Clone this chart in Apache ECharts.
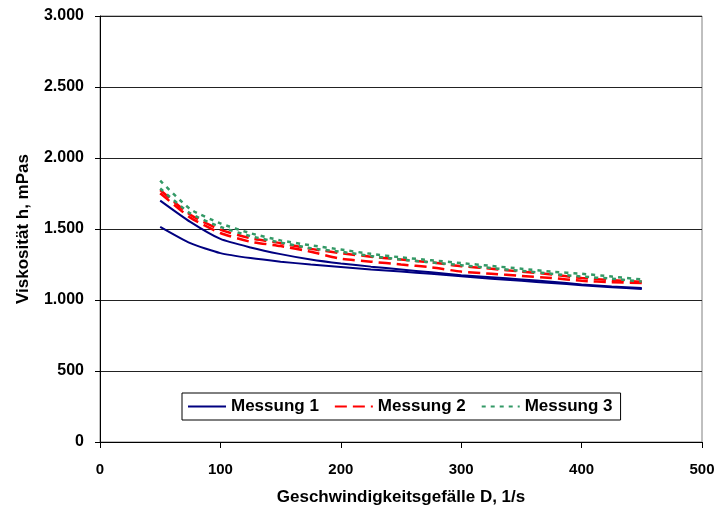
<!DOCTYPE html>
<html>
<head>
<meta charset="utf-8">
<script src="https://cdn.jsdelivr.net/npm/echarts@6/dist/echarts.min.js"></script>
<style>
  html, body { margin: 0; padding: 0; background: #fff; }
  #chart { width: 720px; height: 514px; }
</style>
</head>
<body>
<div id="chart"></div>
<script>
// Schergefälle D (1/s)
const shearRates = [50, 75, 100, 125, 150, 175, 200, 225, 250, 275, 300, 325, 350, 375, 400, 425, 450]

// Messung 1 (Auf- und Abwärtskurve)
const m1Up = [1515, 1400, 1330, 1295, 1270, 1250, 1233, 1215, 1200, 1185, 1167, 1150, 1135, 1120, 1104, 1090, 1078]
const m1Down = [1700, 1550, 1430, 1370, 1323, 1285, 1257, 1235, 1215, 1195, 1175, 1160, 1145, 1128, 1110, 1095, 1085]
// Messung 2
const m2Up = [1752, 1580, 1472, 1410, 1380, 1340, 1290, 1270, 1250, 1230, 1200, 1185, 1170, 1155, 1135, 1125, 1120]
const m2Down = [1775, 1600, 1495, 1435, 1400, 1360, 1330, 1305, 1285, 1265, 1238, 1220, 1200, 1180, 1155, 1140, 1128]
// Messung 3
const m3Up = [1785, 1610, 1515, 1450, 1405, 1365, 1340, 1310, 1285, 1265, 1245, 1225, 1205, 1185, 1165, 1150, 1130]
const m3Down = [1840, 1640, 1540, 1470, 1420, 1385, 1355, 1325, 1300, 1280, 1260, 1240, 1220, 1200, 1185, 1165, 1145]

const font = 'Liberation Sans, Arial, sans-serif'

const pairs = (ys) => shearRates.map((x, i) => [x, ys[i]])

const mkSeries = (name, ys, color, type) => ({
  name: name,
  type: 'line',
  data: pairs(ys),
  symbol: 'none',
  smooth: 0.2,
  lineStyle: { color: color, width: type === 'solid' ? 2 : 2.5, type: type },
  itemStyle: { color: color },
})

const chart = echarts.init(document.getElementById('chart'), null, { renderer: 'canvas' })
chart.setOption({
  backgroundColor: '#fff',
  animation: false,
  textStyle: { fontFamily: font },
  grid: {
    left: 100, right: 18, top: 16, bottom: 72,
    show: true, borderColor: '#808080', borderWidth: 1,
  },
  legend: {
    left: 182, top: 393,
    orient: 'horizontal',
    backgroundColor: '#fff',
    borderColor: '#000', borderWidth: 1,
    padding: [5, 8, 5, 5],
    itemWidth: 38, itemHeight: 14, itemGap: 15,
    itemStyle: { opacity: 0 },
    textStyle: { fontFamily: font, fontWeight: 'bold', fontSize: 17, color: '#000' },
    data: ['Messung 1', 'Messung 2', 'Messung 3'],
  },
  xAxis: {
    type: 'value',
    min: 0, max: 500, interval: 100,
    name: 'Geschwindigkeitsgefälle D, 1/s',
    nameLocation: 'middle', nameGap: 47,
    nameTextStyle: { fontFamily: font, fontWeight: 'bold', fontSize: 17, color: '#000' },
    axisLine: { lineStyle: { color: '#000', width: 1 } },
    axisTick: { inside: false, length: 6, lineStyle: { color: '#000' } },
    axisLabel: { fontFamily: font, fontWeight: 'bold', fontSize: 15, color: '#000', margin: 20 },
    splitLine: { show: false },
  },
  yAxis: {
    type: 'value',
    min: 0, max: 3000, interval: 500,
    name: 'Viskosität h, mPas',
    nameLocation: 'middle', nameGap: 68,
    nameTextStyle: { fontFamily: font, fontWeight: 'bold', fontSize: 17, color: '#000' },
    axisLine: { show: true, lineStyle: { color: '#000', width: 1 } },
    axisTick: { show: true, length: 5, lineStyle: { color: '#000' } },
    axisLabel: {
      fontFamily: font, fontWeight: 'bold', fontSize: 16, color: '#000', margin: 16,
      formatter: (v) => v >= 1000 ? Math.floor(v / 1000) + '.' + String(v % 1000).padStart(3, '0') : String(v),
    },
    splitLine: { show: true, lineStyle: { color: '#222', width: 1 } },
  },
  series: [
    mkSeries('Messung 1', m1Up, '#000080', 'solid'),
    mkSeries('Messung 1', m1Down, '#000080', 'solid'),
    mkSeries('Messung 2', m2Up, '#FF0000', [12, 6]),
    mkSeries('Messung 2', m2Down, '#FF0000', [12, 6]),
    mkSeries('Messung 3', m3Up, '#339966', [4, 5]),
    mkSeries('Messung 3', m3Down, '#339966', [4, 5]),
  ],
})
</script>
</body>
</html>
